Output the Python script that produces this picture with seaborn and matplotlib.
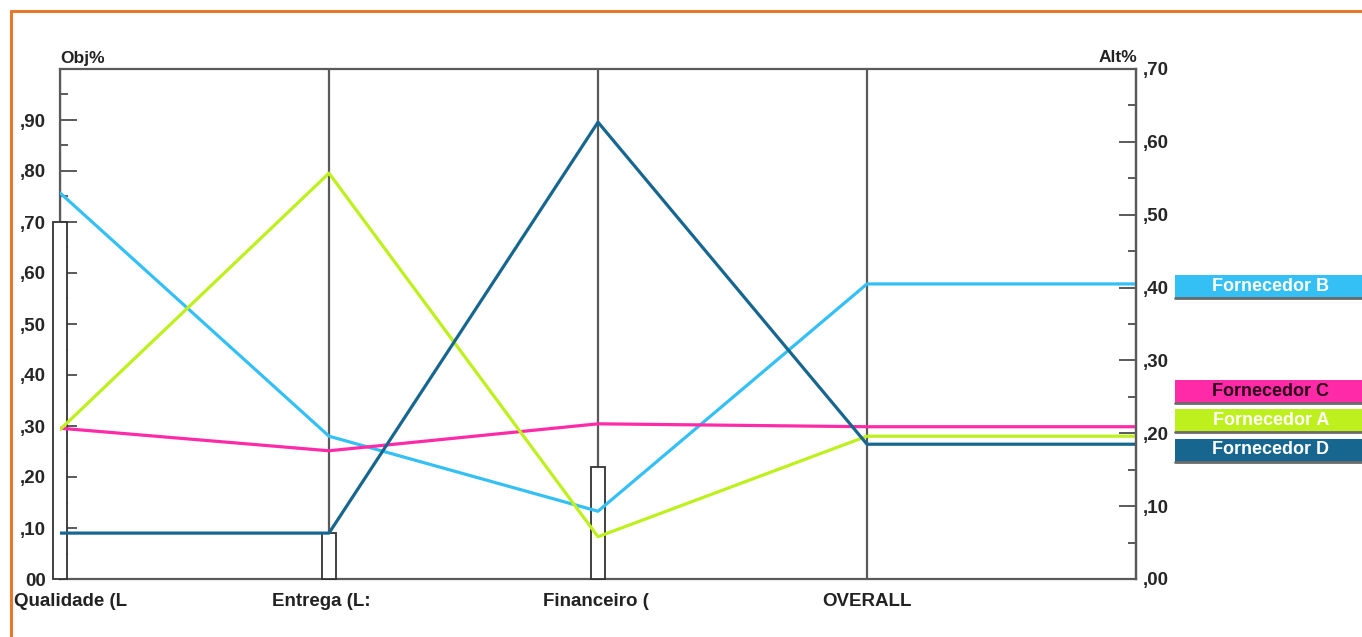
import matplotlib
matplotlib.use("Agg")
import matplotlib.pyplot as plt
import matplotlib.transforms as mtransforms
from matplotlib.patches import Rectangle
from matplotlib.lines import Line2D
import numpy as np
import pandas as pd
import seaborn as sns

# ---- data -------------------------------------------------------------
criteria = ["Qualidade (L", "Entrega (L:", "Financeiro (", "OVERALL"]
criteria_weights = [0.70, 0.09, 0.22]          # Obj% bars (left axis)

suppliers = ["Fornecedor B", "Fornecedor C", "Fornecedor A", "Fornecedor D"]
# Alt% per criterion, last value = OVERALL
fornecedor_b = [0.530, 0.196, 0.093, 0.405]
fornecedor_c = [0.207, 0.176, 0.213, 0.209]
fornecedor_a = [0.205, 0.557, 0.058, 0.196]
fornecedor_d = [0.063, 0.063, 0.627, 0.185]

left_ticks = [0.0, 0.1, 0.2, 0.3, 0.4, 0.5, 0.6, 0.7, 0.8, 0.9]
left_labels = ["00", ",10", ",20", ",30", ",40", ",50", ",60", ",70", ",80", ",90"]
right_ticks = [0.0, 0.1, 0.2, 0.3, 0.4, 0.5, 0.6, 0.7]
right_labels = [",00", ",10", ",20", ",30", ",40", ",50", ",60", ",70"]

colors = {
    "Fornecedor B": "#35c0f5",
    "Fornecedor C": "#ff2aa8",
    "Fornecedor A": "#bdf01c",
    "Fornecedor D": "#17668f",
}
text_colors = {
    "Fornecedor B": "white",
    "Fornecedor C": "#2a0018",
    "Fornecedor A": "white",
    "Fornecedor D": "white",
}
legend_pos = {"Fornecedor B": 0.401, "Fornecedor C": 0.257,
              "Fornecedor A": 0.217, "Fornecedor D": 0.177}

# ---- long table for seaborn ------------------------------------------
series = {"Fornecedor B": fornecedor_b, "Fornecedor C": fornecedor_c,
          "Fornecedor A": fornecedor_a, "Fornecedor D": fornecedor_d}
rows = []
for name in suppliers:
    vals = list(series[name]) + [series[name][-1]]   # carry OVERALL to the edge
    for i, v in enumerate(vals):
        rows.append({"pos": i, "alt": v, "fornecedor": name})
df = pd.DataFrame(rows)

# ---- figure -----------------------------------------------------------
sns.set_style("white")
plt.rcParams["font.family"] = ["Liberation Sans", "DejaVu Sans"]
plt.rcParams["font.weight"] = "bold"

W, H = 1362, 637
fig = plt.figure(figsize=(W / 100, H / 100), dpi=100)
fig.patch.set_facecolor("white")

def fx(px):
    return px / W

def fy(py):
    return 1 - py / H

ax = fig.add_axes([fx(60), fy(579), fx(1136) - fx(60), fy(69) - fy(579)])
ax.set_xlim(0, 4)
ax.set_ylim(0, 1.0)

gray = "#5a5a5a"
for s in ax.spines.values():
    s.set_color(gray)
    s.set_linewidth(1.6)

# vertical criterion lines
for i in range(len(criteria)):
    ax.axvline(i, color=gray, lw=1.6, zorder=1)

# criterion weight bars (drawn over the spine and the criterion lines)
bar_w = 0.053
for i, w in enumerate(criteria_weights):
    ax.add_patch(Rectangle((i - bar_w / 2, 0), bar_w, w, facecolor="white",
                           edgecolor="#333333", lw=1.3, zorder=3, clip_on=False))

ax.set_yticks(left_ticks)
ax.set_yticklabels(left_labels)
ax.set_yticks(np.arange(0.05, 1.0, 0.1), minor=True)
ax.tick_params(axis="y", which="major", direction="in", length=12, width=1.4,
               color=gray, pad=10, labelsize=13.5)
ax.tick_params(axis="y", which="minor", direction="in", length=6, width=1.4,
               color=gray)
ax.set_xticks([])
for lab in ax.get_yticklabels():
    lab.set_fontweight("bold")

# alternatives on the right scale
ax2 = ax.twinx()
ax2.set_ylim(0, 0.70)
ax2.set_xlim(0, 4)
ax2.patch.set_visible(False)
for key, s in ax2.spines.items():
    s.set_color(gray)
    s.set_linewidth(1.6)
    s.set_visible(key == "right")

sns.lineplot(data=df, x="pos", y="alt", hue="fornecedor", hue_order=suppliers,
             palette=colors, ax=ax2, legend=False, linewidth=2.3,
             estimator=None, sort=False)
ax2.set_xlabel("")
ax2.set_ylabel("")
ax.set_ylabel("")
ax2.set_xlim(0, 4)

ax2.set_yticks(right_ticks)
ax2.set_yticklabels(right_labels)
ax2.set_yticks(np.arange(0.05, 0.7, 0.1), minor=True)
ax2.tick_params(axis="y", which="major", direction="in", length=12, width=1.4,
                color=gray, pad=5, labelsize=13.5)
ax2.tick_params(axis="y", which="minor", direction="in", length=6, width=1.4,
                color=gray)
for lab in ax2.get_yticklabels():
    lab.set_fontweight("bold")

# axis titles
fig.text(fx(60), fy(58), "Obj%", ha="left", va="center", fontsize=12.5,
         fontweight="bold", color="#222222")
fig.text(fx(1137), fy(58), "Alt%", ha="right", va="center", fontsize=12.5,
         fontweight="bold", color="#222222")

# criterion names under the axis
label_x = [14, 272, 543, 822]
for name, x in zip(criteria, label_x):
    fig.text(fx(x), fy(601), name, ha="left", va="center", fontsize=13.5,
             fontweight="bold", color="#222222")

# supplier tags on the right
trans = mtransforms.blended_transform_factory(fig.transFigure, ax2.transData)
box_h = 23 / 728.6
for name in suppliers:
    yc = legend_pos[name]
    ax2.add_patch(Rectangle((fx(1175), yc - box_h / 2), fx(1362) - fx(1175), box_h,
                            transform=trans, facecolor=colors[name],
                            edgecolor="none", clip_on=False, zorder=5))
    ax2.add_line(Line2D([fx(1175), fx(1362)], [yc - box_h / 2, yc - box_h / 2],
                        transform=trans, color="#6a6a6a", lw=2.0,
                        clip_on=False, zorder=6))
    ax2.text(fx(1271), yc + 0.001, name, transform=trans, ha="center",
             va="center", fontsize=13, fontweight="bold",
             color=text_colors[name], zorder=7, clip_on=False)

# page frame
fig.add_artist(Line2D([fx(11), fx(1362)], [fy(11), fy(11)], color="#e8782a",
                      lw=2.2, transform=fig.transFigure))
fig.add_artist(Line2D([fx(11), fx(11)], [fy(11), fy(637)], color="#e8782a",
                      lw=2.2, transform=fig.transFigure))

fig.savefig("out.png", dpi=100)
